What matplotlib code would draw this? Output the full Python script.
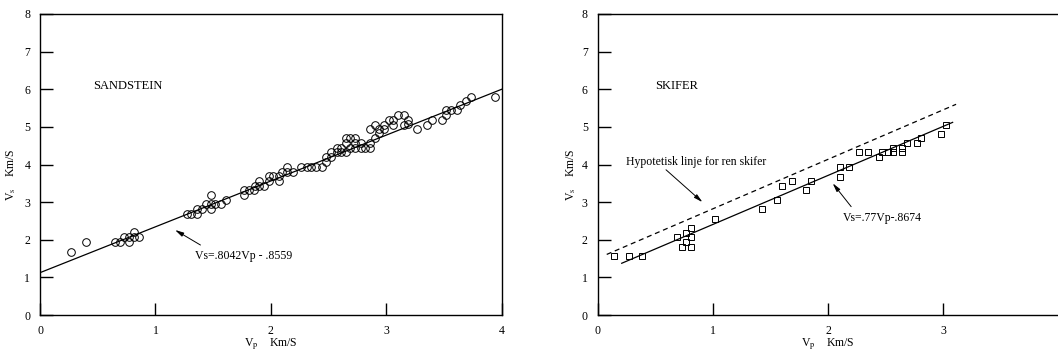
import numpy as np
import matplotlib
matplotlib.use("Agg")
import matplotlib.pyplot as plt

plt.rcParams.update({"font.family": "Liberation Serif", "font.size": 8.5,
                     "mathtext.fontset": "stix"})

# sandstein (Vp, Vs)
sand_vp = [0.27, 0.40, 0.65, 0.69, 0.73, 0.77, 0.77, 0.815, 0.815, 0.86,
           1.27, 1.31, 1.36, 1.36, 1.40, 1.44, 1.48, 1.48, 1.48, 1.52, 1.57, 1.61,
           1.77, 1.77, 1.81, 1.85, 1.86, 1.90, 1.90, 1.94, 1.98, 1.98, 2.02, 2.07, 2.07,
           2.10, 2.14, 2.14, 2.19, 2.26, 2.31, 2.35, 2.39, 2.44, 2.48, 2.48, 2.52, 2.52,
           2.57, 2.57, 2.61, 2.61, 2.65, 2.65, 2.65, 2.69, 2.69, 2.73, 2.73, 2.73,
           2.78, 2.78, 2.82, 2.86, 2.86, 2.86, 2.90, 2.90, 2.94, 2.94, 2.98, 2.98,
           3.02, 3.06, 3.06, 3.10, 3.15, 3.15, 3.19, 3.19, 3.27, 3.35, 3.40, 3.48,
           3.52, 3.52, 3.56, 3.61, 3.64, 3.69, 3.73, 3.94]
sand_vs = [1.68, 1.93, 1.93, 1.93, 2.07, 1.93, 2.07, 2.20, 2.07, 2.07,
           2.69, 2.69, 2.69, 2.82, 2.82, 2.95, 3.19, 2.95, 2.82, 2.95, 2.95, 3.06,
           3.32, 3.19, 3.32, 3.32, 3.44, 3.56, 3.44, 3.44, 3.56, 3.70, 3.70, 3.70, 3.56,
           3.81, 3.94, 3.81, 3.81, 3.94, 3.94, 3.94, 3.94, 3.94, 4.06, 4.19, 4.19, 4.32,
           4.32, 4.45, 4.45, 4.32, 4.70, 4.57, 4.32, 4.70, 4.45, 4.70, 4.57, 4.45,
           4.57, 4.45, 4.45, 4.45, 4.57, 4.95, 5.05, 4.70, 4.83, 4.95, 5.05, 4.95,
           5.19, 5.19, 5.05, 5.32, 5.32, 5.05, 5.19, 5.07, 4.94, 5.05, 5.19, 5.19,
           5.32, 5.45, 5.45, 5.45, 5.57, 5.70, 5.80, 5.80]
sand_fit_x = [0.0, 4.0]
sand_fit_y = [1.125, 6.0]

# skifer (Vp, Vs)
skif_vp = [0.14, 0.27, 0.39, 0.69, 0.73, 0.77, 0.77, 0.81, 0.81, 0.81,
           1.02, 1.43, 1.56, 1.60, 1.69, 1.81, 1.85, 2.10, 2.10, 2.18,
           2.27, 2.35, 2.44, 2.47, 2.52, 2.56, 2.56, 2.64, 2.64, 2.68, 2.77, 2.81,
           2.98, 3.02]
skif_vs = [1.57, 1.57, 1.57, 2.06, 1.82, 2.19, 1.95, 2.31, 2.07, 1.82,
           2.55, 2.81, 3.06, 3.44, 3.56, 3.31, 3.56, 3.94, 3.68, 3.94,
           4.32, 4.32, 4.19, 4.32, 4.32, 4.32, 4.45, 4.32, 4.45, 4.57, 4.57, 4.70,
           4.81, 5.06]
skif_fit_x = [0.21, 3.08]
skif_fit_y = [1.375, 5.12]
skif_hyp_x = [0.08, 3.11]
skif_hyp_y = [1.61, 5.60]

fig = plt.figure(figsize=(10.58, 3.56), dpi=100)
ax1 = fig.add_axes([40/1058, 41/356, 461.7/1058, 301/356])
ax2 = fig.add_axes([597.5/1058, 41/356, 461.2/1058, 301/356])

for ax, lx in ((ax1, -0.047), (ax2, -0.042)):
    ax.set_ylim(0, 8)
    ax.set_xlim(0, 4)
    ax.set_yticks(range(0, 9))
    ax.tick_params(direction="in", length=9, width=1, pad=7, labelsize=8.5)
    for s in ax.spines.values():
        s.set_linewidth(1)
    ax.set_ylabel(r"V$_{\rm s}$    Km/S")
    ax.yaxis.set_label_coords(lx, 0.465)
    ax.set_xlabel(r"V$_{\rm p}$    Km/S", labelpad=0)

ax1.set_xticks(range(0, 5))
ax2.set_xticks(range(0, 4))

arrow = dict(arrowstyle="-|>,head_length=0.6,head_width=0.15",
             color="black", lw=0.7, shrinkA=0, shrinkB=0)

ax1.plot(sand_fit_x, sand_fit_y, color="black", lw=0.9)
ax1.plot(sand_vp, sand_vs, "o", mfc="none", mec="black", ms=5.5, mew=0.7)
ax1.text(0.46, 6.09, "SANDSTEIN", fontsize=9, va="center")
ax1.annotate("", xy=(1.17, 2.26), xytext=(1.39, 1.86), arrowprops=arrow)
ax1.text(1.34, 1.57, "Vs=.8042Vp - .8559", va="center")

ax2.plot(skif_hyp_x, skif_hyp_y, color="black", lw=0.9, ls=(0, (4, 3)))
ax2.plot(skif_fit_x, skif_fit_y, color="black", lw=0.9)
ax2.plot(skif_vp, skif_vs, "s", mfc="none", mec="black", ms=4, mew=0.7)
ax2.text(0.50, 6.09, "SKIFER", fontsize=9, va="center")
ax2.text(0.25, 4.06, "Hypotetisk linje for ren skifer", va="center")
ax2.annotate("", xy=(0.91, 3.0), xytext=(0.594, 3.86), arrowprops=arrow)
ax2.text(2.13, 2.57, "Vs=.77Vp-.8674", va="center")
ax2.annotate("", xy=(2.04, 3.50), xytext=(2.20, 2.88), arrowprops=arrow)

fig.savefig("out.png", dpi=100)
